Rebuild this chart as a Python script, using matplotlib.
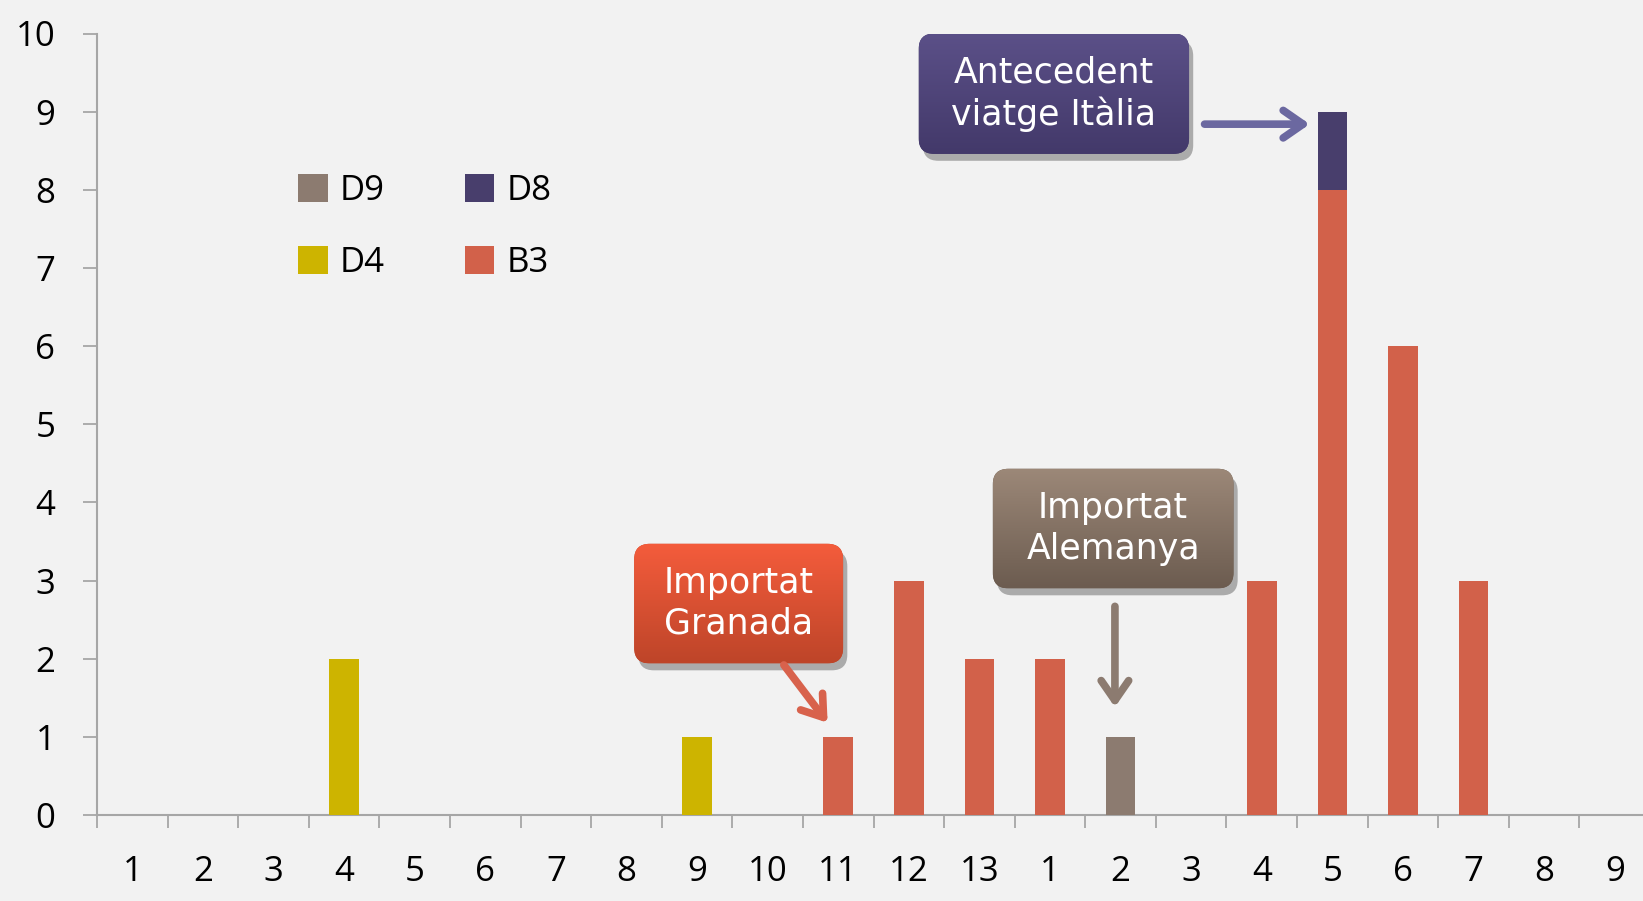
import numpy as np
import matplotlib
matplotlib.use('Agg')
import matplotlib.pyplot as plt
import matplotlib.patheffects as pe
from matplotlib.patches import FancyBboxPatch
from matplotlib.colors import LinearSegmentedColormap

# data
labels = [str(i) for i in range(1, 14)] + [str(i) for i in range(1, 10)]
b3 = [0, 0, 0, 0, 0, 0, 0, 0, 0, 0, 1, 3, 2, 2, 0, 0, 3, 8, 6, 3, 0, 0]
d8 = [0, 0, 0, 0, 0, 0, 0, 0, 0, 0, 0, 0, 0, 0, 0, 0, 0, 1, 0, 0, 0, 0]
d9 = [0, 0, 0, 0, 0, 0, 0, 0, 0, 0, 0, 0, 0, 0, 1, 0, 0, 0, 0, 0, 0, 0]
d4 = [0, 0, 0, 2, 0, 0, 0, 0, 1, 0, 0, 0, 0, 0, 0, 0, 0, 0, 0, 0, 0, 0]

C_B3 = '#D2614A'
C_D8 = '#483E6C'
C_D9 = '#8C7B70'
C_D4 = '#CDB400'
BG = '#F2F2F2'
GRID = '#A6A6A6'

fig = plt.figure(figsize=(16.43, 9.01), dpi=100, facecolor=BG)
ax = fig.add_axes([97 / 1643, 86 / 901, 1553 / 1643, 781.5 / 901])
ax.set_facecolor(BG)

x = np.arange(len(labels))
w = 0.42
bottom = np.zeros(len(labels))
bars = {}
for name, vals, col in [('B3', b3, C_B3), ('D8', d8, C_D8),
                        ('D9', d9, C_D9), ('D4', d4, C_D4)]:
    vals = np.array(vals, dtype=float)
    bars[name] = ax.bar(x, vals, w, bottom=bottom, color=col, label=name,
                        zorder=3)
    bottom += vals

ax.set_xlim(-0.5, len(labels) - 0.5)
ax.set_ylim(0, 10)

for s in ['top', 'right']:
    ax.spines[s].set_visible(False)
for s in ['left', 'bottom']:
    ax.spines[s].set_color(GRID)
    ax.spines[s].set_linewidth(1.5)

tickfont = dict(family=['Open Sans', 'DejaVu Sans'], size=25)
ax.set_yticks(range(0, 11))
ax.set_yticklabels([str(i) for i in range(0, 11)], **tickfont)
ax.tick_params(axis='y', direction='out', length=10, width=1.3,
               color=GRID, pad=20)
ax.set_xticks(x)
ax.set_xticklabels(labels, **tickfont)
ax.tick_params(axis='x', which='major', length=0, pad=29)
ax.set_xticks(np.arange(-0.5, len(labels), 1), minor=True)
ax.tick_params(axis='x', which='minor', direction='out', length=9,
               width=1.3, color=GRID)

# legend
h = bars
leg = ax.legend([h['D9'], h['D4'], h['D8'], h['B3']],
                ['D9', 'D4', 'D8', 'B3'], ncol=2, frameon=False,
                loc='upper left', bbox_to_anchor=(298 / 1643, 1 - 174 / 901),
                bbox_transform=fig.transFigure, borderpad=0, borderaxespad=0,
                handlelength=0.85, handleheight=0.85, handletextpad=0.35,
                columnspacing=2.3, labelspacing=1.1,
                prop=dict(family=['Open Sans', 'DejaVu Sans'], size=25))


# callout boxes with gradient and shadow
def callout(x0, x1, y0, y1, text, top, bot):
    patch = FancyBboxPatch((x0, y0), x1 - x0, y1 - y0,
                           boxstyle='round,pad=0,rounding_size=0.22',
                           mutation_aspect=70.6 / 78.15,
                           fc=bot, ec='none', zorder=5,
                           path_effects=[pe.SimplePatchShadow(offset=(3, -5),
                                                              shadow_rgbFace='#555555',
                                                              alpha=0.45),
                                         pe.Normal()])
    ax.add_patch(patch)
    cmap = LinearSegmentedColormap.from_list('g', [bot, top])
    grad = np.linspace(0, 1, 100).reshape(-1, 1)
    im = ax.imshow(grad, cmap=cmap, extent=(x0, x1, y0, y1), origin='lower',
                   aspect='auto', zorder=6)
    im.set_clip_path(patch)
    ax.text((x0 + x1) / 2, (y0 + y1) / 2, text, ha='center', va='center',
            color='white', fontsize=25, family=['DejaVu Sans'],
            linespacing=1.25, zorder=7)


callout(11.14, 14.97, 8.46, 10.0, 'Antecedent\nviatge Itàlia', '#5B5088', '#43396A')
callout(7.11, 10.07, 1.94, 3.47, 'Importat\nGranada', '#F45C3C', '#BE4529')
callout(12.19, 15.6, 2.90, 4.43, 'Importat\nAlemanya', '#9C8878', '#6C5C50')

arrow = dict(arrowstyle='->,head_length=0.65,head_width=0.45', lw=5.5,
             mutation_scale=22, shrinkA=0, shrinkB=0)
ax.annotate('', xy=(16.68, 8.84), xytext=(15.19, 8.84),
            arrowprops=dict(arrow, color='#6B68A0'), zorder=8)
ax.annotate('', xy=(9.85, 1.18), xytext=(9.23, 1.92),
            arrowprops=dict(arrow, color='#D8624C'), zorder=8)
ax.annotate('', xy=(13.92, 1.38), xytext=(13.92, 2.67),
            arrowprops=dict(arrow, color='#8C7B70'), zorder=8)

ax.set_xlim(-0.5, len(labels) - 0.5)
ax.set_ylim(0, 10)

fig.savefig('out.png', dpi=100, facecolor=BG)
